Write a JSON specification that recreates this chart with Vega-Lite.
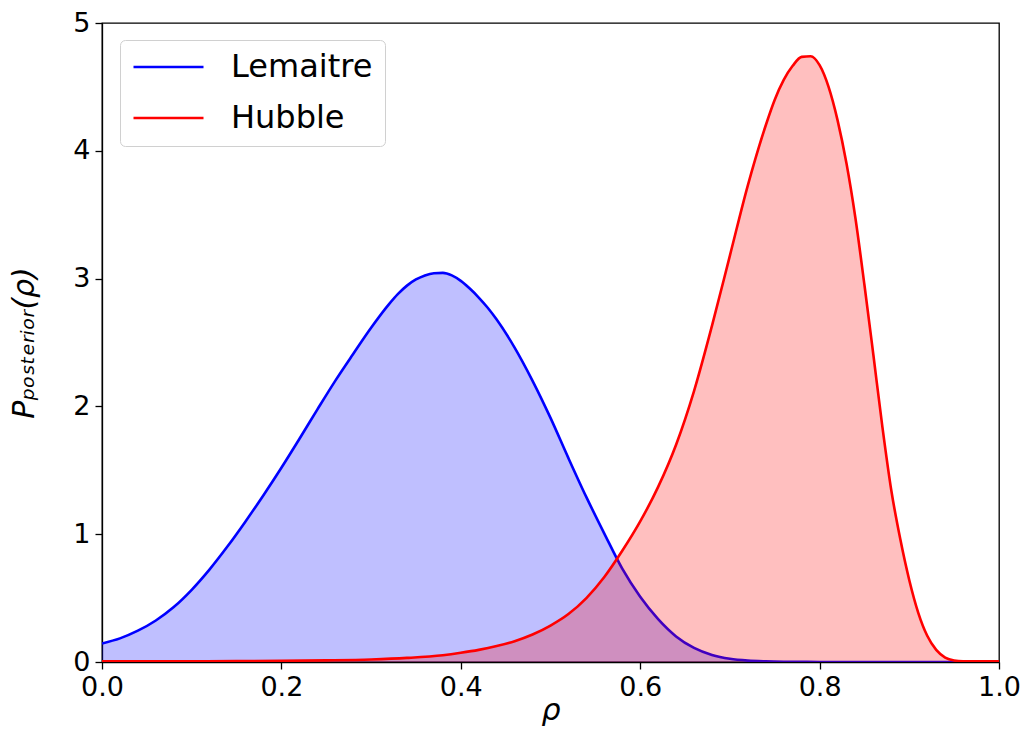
{
  "$schema": "https://vega.github.io/schema/vega-lite/v6.json",
  "width": 897,
  "height": 639,
  "autosize": {"type": "none"},
  "padding": {"left": 102, "top": 23, "right": 25, "bottom": 88},
  "background": "white",
  "config": {
    "font": "DejaVu Sans",
    "view": {"stroke": "black", "strokeWidth": 1.3},
    "axis": {
      "grid": false,
      "domainColor": "black",
      "domainWidth": 1.3,
      "tickColor": "black",
      "tickWidth": 1.3,
      "tickSize": 7,
      "labelColor": "black",
      "labelFontSize": 27,
      "labelPadding": 5,
      "titleColor": "black",
      "titleFontSize": 30,
      "titleFontWeight": "normal"
    }
  },
  "data": {
    "values": [
      {"rho": 0.00, "P": 0.145, "series": "Lemaitre"},
      {"rho": 0.02, "P": 0.185, "series": "Lemaitre"},
      {"rho": 0.04, "P": 0.245, "series": "Lemaitre"},
      {"rho": 0.06, "P": 0.325, "series": "Lemaitre"},
      {"rho": 0.08, "P": 0.43, "series": "Lemaitre"},
      {"rho": 0.10, "P": 0.565, "series": "Lemaitre"},
      {"rho": 0.12, "P": 0.725, "series": "Lemaitre"},
      {"rho": 0.14, "P": 0.905, "series": "Lemaitre"},
      {"rho": 0.16, "P": 1.10, "series": "Lemaitre"},
      {"rho": 0.18, "P": 1.305, "series": "Lemaitre"},
      {"rho": 0.20, "P": 1.52, "series": "Lemaitre"},
      {"rho": 0.22, "P": 1.745, "series": "Lemaitre"},
      {"rho": 0.24, "P": 1.975, "series": "Lemaitre"},
      {"rho": 0.26, "P": 2.20, "series": "Lemaitre"},
      {"rho": 0.28, "P": 2.41, "series": "Lemaitre"},
      {"rho": 0.30, "P": 2.615, "series": "Lemaitre"},
      {"rho": 0.32, "P": 2.80, "series": "Lemaitre"},
      {"rho": 0.33, "P": 2.88, "series": "Lemaitre"},
      {"rho": 0.34, "P": 2.945, "series": "Lemaitre"},
      {"rho": 0.35, "P": 2.993, "series": "Lemaitre"},
      {"rho": 0.36, "P": 3.025, "series": "Lemaitre"},
      {"rho": 0.37, "P": 3.042, "series": "Lemaitre"},
      {"rho": 0.38, "P": 3.045, "series": "Lemaitre"},
      {"rho": 0.39, "P": 3.025, "series": "Lemaitre"},
      {"rho": 0.40, "P": 2.982, "series": "Lemaitre"},
      {"rho": 0.41, "P": 2.922, "series": "Lemaitre"},
      {"rho": 0.42, "P": 2.852, "series": "Lemaitre"},
      {"rho": 0.43, "P": 2.772, "series": "Lemaitre"},
      {"rho": 0.44, "P": 2.68, "series": "Lemaitre"},
      {"rho": 0.46, "P": 2.46, "series": "Lemaitre"},
      {"rho": 0.48, "P": 2.20, "series": "Lemaitre"},
      {"rho": 0.50, "P": 1.91, "series": "Lemaitre"},
      {"rho": 0.52, "P": 1.595, "series": "Lemaitre"},
      {"rho": 0.54, "P": 1.29, "series": "Lemaitre"},
      {"rho": 0.56, "P": 1.005, "series": "Lemaitre"},
      {"rho": 0.58, "P": 0.73, "series": "Lemaitre"},
      {"rho": 0.60, "P": 0.51, "series": "Lemaitre"},
      {"rho": 0.62, "P": 0.335, "series": "Lemaitre"},
      {"rho": 0.64, "P": 0.20, "series": "Lemaitre"},
      {"rho": 0.66, "P": 0.11, "series": "Lemaitre"},
      {"rho": 0.68, "P": 0.055, "series": "Lemaitre"},
      {"rho": 0.70, "P": 0.025, "series": "Lemaitre"},
      {"rho": 0.72, "P": 0.011, "series": "Lemaitre"},
      {"rho": 0.74, "P": 0.005, "series": "Lemaitre"},
      {"rho": 0.76, "P": 0.002, "series": "Lemaitre"},
      {"rho": 0.78, "P": 0.001, "series": "Lemaitre"},
      {"rho": 0.80, "P": 0.0, "series": "Lemaitre"},
      {"rho": 0.90, "P": 0.0, "series": "Lemaitre"},
      {"rho": 1.00, "P": 0.0, "series": "Lemaitre"},

      {"rho": 0.00, "P": 0.005, "series": "Hubble"},
      {"rho": 0.05, "P": 0.005, "series": "Hubble"},
      {"rho": 0.10, "P": 0.006, "series": "Hubble"},
      {"rho": 0.15, "P": 0.007, "series": "Hubble"},
      {"rho": 0.20, "P": 0.009, "series": "Hubble"},
      {"rho": 0.25, "P": 0.013, "series": "Hubble"},
      {"rho": 0.30, "P": 0.02, "series": "Hubble"},
      {"rho": 0.34, "P": 0.032, "series": "Hubble"},
      {"rho": 0.38, "P": 0.053, "series": "Hubble"},
      {"rho": 0.40, "P": 0.072, "series": "Hubble"},
      {"rho": 0.42, "P": 0.095, "series": "Hubble"},
      {"rho": 0.44, "P": 0.125, "series": "Hubble"},
      {"rho": 0.46, "P": 0.163, "series": "Hubble"},
      {"rho": 0.48, "P": 0.215, "series": "Hubble"},
      {"rho": 0.50, "P": 0.285, "series": "Hubble"},
      {"rho": 0.52, "P": 0.375, "series": "Hubble"},
      {"rho": 0.54, "P": 0.50, "series": "Hubble"},
      {"rho": 0.56, "P": 0.665, "series": "Hubble"},
      {"rho": 0.58, "P": 0.87, "series": "Hubble"},
      {"rho": 0.60, "P": 1.10, "series": "Hubble"},
      {"rho": 0.62, "P": 1.37, "series": "Hubble"},
      {"rho": 0.64, "P": 1.70, "series": "Hubble"},
      {"rho": 0.66, "P": 2.12, "series": "Hubble"},
      {"rho": 0.68, "P": 2.63, "series": "Hubble"},
      {"rho": 0.70, "P": 3.18, "series": "Hubble"},
      {"rho": 0.72, "P": 3.73, "series": "Hubble"},
      {"rho": 0.74, "P": 4.20, "series": "Hubble"},
      {"rho": 0.75, "P": 4.40, "series": "Hubble"},
      {"rho": 0.76, "P": 4.555, "series": "Hubble"},
      {"rho": 0.77, "P": 4.665, "series": "Hubble"},
      {"rho": 0.78, "P": 4.735, "series": "Hubble"},
      {"rho": 0.79, "P": 4.74, "series": "Hubble"},
      {"rho": 0.80, "P": 4.67, "series": "Hubble"},
      {"rho": 0.81, "P": 4.50, "series": "Hubble"},
      {"rho": 0.82, "P": 4.24, "series": "Hubble"},
      {"rho": 0.83, "P": 3.90, "series": "Hubble"},
      {"rho": 0.84, "P": 3.47, "series": "Hubble"},
      {"rho": 0.85, "P": 2.95, "series": "Hubble"},
      {"rho": 0.86, "P": 2.40, "series": "Hubble"},
      {"rho": 0.87, "P": 1.84, "series": "Hubble"},
      {"rho": 0.88, "P": 1.34, "series": "Hubble"},
      {"rho": 0.89, "P": 0.96, "series": "Hubble"},
      {"rho": 0.90, "P": 0.64, "series": "Hubble"},
      {"rho": 0.91, "P": 0.385, "series": "Hubble"},
      {"rho": 0.92, "P": 0.205, "series": "Hubble"},
      {"rho": 0.93, "P": 0.095, "series": "Hubble"},
      {"rho": 0.94, "P": 0.035, "series": "Hubble"},
      {"rho": 0.95, "P": 0.012, "series": "Hubble"},
      {"rho": 0.96, "P": 0.006, "series": "Hubble"},
      {"rho": 0.98, "P": 0.005, "series": "Hubble"},
      {"rho": 1.00, "P": 0.005, "series": "Hubble"}
    ]
  },
  "encoding": {
    "x": {
      "field": "rho",
      "type": "quantitative",
      "scale": {"domain": [0, 1], "nice": false, "zero": false},
      "axis": {
        "title": "ρ",
        "titleFontStyle": "italic",
        "titlePadding": -5,
        "format": ".1f",
        "values": [0, 0.2, 0.4, 0.6, 0.8, 1.0],
        "labelFlush": false
      }
    },
    "y": {
      "field": "P",
      "type": "quantitative",
      "scale": {"domain": [0, 5], "nice": false},
      "axis": {
        "title": "Pₚₒₛₜₑᵣᵢₒᵣ(ρ)",
        "titleFontStyle": "italic",
        "titlePadding": 33,
        "format": "d",
        "values": [0, 1, 2, 3, 4, 5]
      }
    }
  },
  "layer": [
    {
      "transform": [{"filter": "datum.series === 'Lemaitre'"}],
      "mark": {"type": "area", "color": "blue", "fillOpacity": 0.25, "interpolate": "monotone", "clip": true}
    },
    {
      "mark": {"type": "line", "strokeWidth": 2.6, "interpolate": "monotone", "clip": true},
      "encoding": {
        "color": {
          "field": "series",
          "type": "nominal",
          "sort": ["Lemaitre", "Hubble"],
          "scale": {"domain": ["Lemaitre", "Hubble"], "range": ["blue", "red"]},
          "legend": {
            "orient": "none",
            "legendX": 18,
            "legendY": 17,
            "title": null,
            "symbolType": "stroke",
            "symbolSize": 4900,
            "symbolStrokeWidth": 2.6,
            "labelFontSize": 32,
            "labelColor": "black",
            "labelOffset": 26,
            "clipHeight": 30,
            "rowPadding": 19,
            "padding": 12,
            "strokeColor": "#d0d0d0",
            "cornerRadius": 5,
            "fillColor": "white"
          }
        }
      }
    },
    {
      "transform": [{"filter": "datum.series === 'Hubble'"}],
      "mark": {"type": "area", "color": "red", "fillOpacity": 0.25, "interpolate": "monotone", "clip": true}
    }
  ]
}
